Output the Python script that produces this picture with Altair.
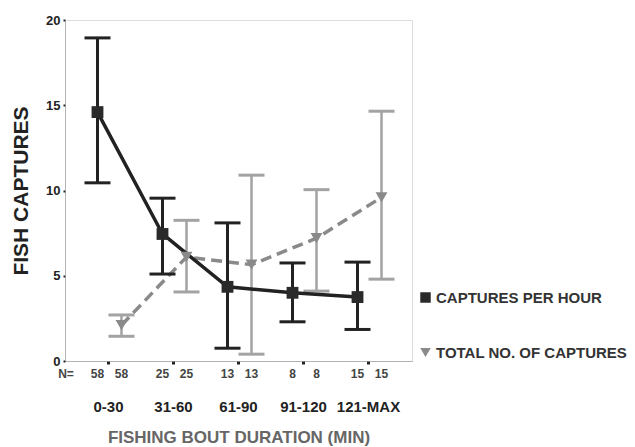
import altair as alt
import pandas as pd

cats = ["0-30", "31-60", "61-90", "91-120", "121-MAX"]
n_obs = [58, 25, 13, 8, 15]
rate_mean = [14.6, 7.45, 4.35, 4.0, 3.75]
rate_lo = [10.45, 5.1, 0.75, 2.3, 1.85]
rate_hi = [18.95, 9.55, 8.1, 5.75, 5.8]
total_mean = [2.1, 6.1, 5.65, 7.2, 9.6]
total_lo = [1.45, 4.05, 0.4, 4.1, 4.8]
total_hi = [2.7, 8.25, 10.9, 10.05, 14.65]
series = ["CAPTURES PER HOUR", "TOTAL NO. OF CAPTURES"]

rows = []
for i, c in enumerate(cats):
    rows.append(dict(cat=c, series=series[0], mean=rate_mean[i], lo=rate_lo[i], hi=rate_hi[i], n=n_obs[i]))
    rows.append(dict(cat=c, series=series[1], mean=total_mean[i], lo=total_lo[i], hi=total_hi[i], n=n_obs[i]))
df = pd.DataFrame(rows)

FONT = "Liberation Sans"
W, H = 347, 341

yscale = alt.Scale(domain=[0, 20], nice=False)
base = alt.Chart(df).encode(
    x=alt.X("cat:N", sort=cats,
            scale=alt.Scale(type="band", paddingInner=0, paddingOuter=0.169),
            axis=alt.Axis(title="FISHING BOUT DURATION (MIN)", labelAngle=0, labelFont=FONT,
                          labelFontSize=15, labelFontWeight="bold", labelColor="#222",
                          labelPadding=35, tickSize=3, tickWidth=3, tickColor="#222",
                          domainColor="#888", domainDash=[1, 1], domainWidth=1, grid=False,
                          titleFont=FONT, titleFontSize=17, titleFontWeight="bold",
                          titleColor="#666", titlePadding=15)),
    xOffset=alt.XOffset("series:N", scale=alt.Scale(type="point", domain=series, range=[21.5, 45.5], padding=0)),
)

ytitle_axis = alt.Axis(title="FISH CAPTURES", values=[0, 5, 10, 15, 20], labelFont=FONT,
                       labelFontSize=13, labelFontWeight="bold", labelColor="#222",
                       tickSize=2, tickWidth=2, tickColor="#222", labelPadding=3, grid=False,
                       domainColor="#888", domainDash=[1, 1], domainWidth=1,
                       titleFont=FONT, titleFontSize=21, titleFontWeight="bold",
                       titleColor="#222", titlePadding=14)

def sub(s):
    return base.transform_filter(alt.datum.series == s)

GRAY_ERR = "#a3a3a3"
GRAY_LINE = "#8a8a8a"
BLACK = "#222222"

layers = []
# gray series (total captures)
g = sub(series[1])
layers.append(g.mark_rule(color=GRAY_ERR, strokeWidth=2.5).encode(
    y=alt.Y("lo:Q", scale=yscale, axis=ytitle_axis), y2="hi:Q"))
layers.append(g.mark_tick(orient="horizontal", size=26, thickness=3, color=GRAY_ERR, opacity=1).encode(
    y=alt.Y("hi:Q", scale=yscale)))
layers.append(g.mark_tick(orient="horizontal", size=26, thickness=3, color=GRAY_ERR, opacity=1).encode(
    y=alt.Y("lo:Q", scale=yscale)))
layers.append(g.mark_line(color=GRAY_LINE, strokeWidth=3.5, strokeDash=[11, 6]).encode(
    y=alt.Y("mean:Q", scale=yscale)))
# black series (captures per hour)
b = sub(series[0])
layers.append(b.mark_rule(color=BLACK, strokeWidth=3).encode(
    y=alt.Y("lo:Q", scale=yscale), y2="hi:Q"))
layers.append(b.mark_tick(orient="horizontal", size=26, thickness=3, color=BLACK, opacity=1).encode(
    y=alt.Y("hi:Q", scale=yscale)))
layers.append(b.mark_tick(orient="horizontal", size=26, thickness=3, color=BLACK, opacity=1).encode(
    y=alt.Y("lo:Q", scale=yscale)))
layers.append(b.mark_line(color=BLACK, strokeWidth=3.5).encode(
    y=alt.Y("mean:Q", scale=yscale)))
# markers with legend
layers.append(base.mark_point(filled=True, opacity=1).encode(
    y=alt.Y("mean:Q", scale=yscale),
    color=alt.Color("series:N", scale=alt.Scale(domain=series, range=["#2a2a2a", "#8a8a8a"]),
                    legend=alt.Legend(title=None, orient="none", legendX=353, legendY=270,
                                      labelFont=FONT, labelFontSize=15, labelFontWeight="bold",
                                      labelColor="#333", rowPadding=39, symbolSize=110,
                                      labelOffset=3, labelLimit=0)),
    shape=alt.Shape("series:N", scale=alt.Scale(domain=series, range=["square", "triangle-down"])),
    size=alt.value(140),
))
# N counts
layers.append(base.mark_text(font=FONT, fontSize=12, fontWeight="bold", color="#444").encode(
    y=alt.value(H + 13), text="n:Q"))
nlab = alt.Chart(pd.DataFrame({"t": ["N="]})).mark_text(
    font=FONT, fontSize=12, fontWeight="bold", color="#444").encode(
    x=alt.value(1), y=alt.value(H + 13), text="t:N")
layers.append(nlab)

chart = alt.layer(*layers).properties(
    width=W, height=H,
    autosize=alt.AutoSizeParams(type="none"),
    padding={"left": 57, "top": 12, "right": 215, "bottom": 86},
).configure_view(stroke=None).configure_axis(grid=False).configure(background="white")

chart.save("out.html", embed_options={"renderer": "svg", "actions": False})
